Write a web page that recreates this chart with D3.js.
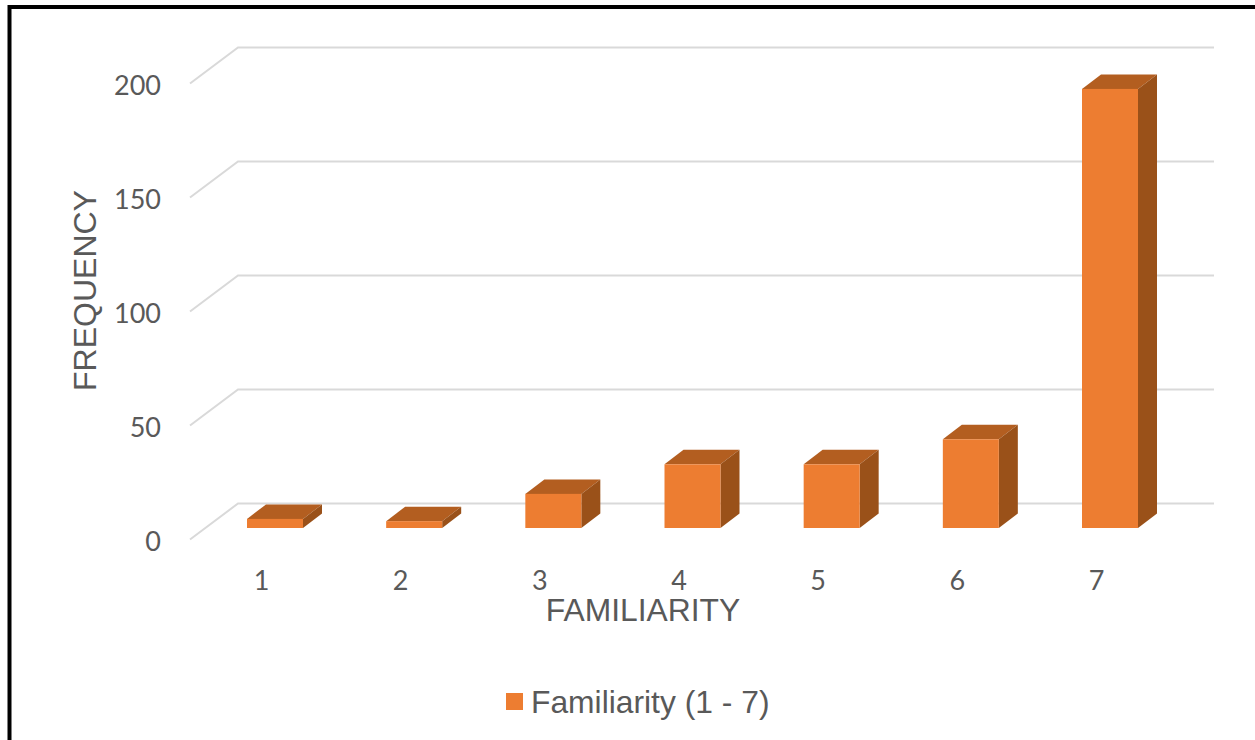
<!DOCTYPE html>
<html>
<head>
<meta charset="utf-8">
<script src="https://cdn.jsdelivr.net/npm/d3@7"></script>
<style>
  html, body { margin: 0; padding: 0; background: #fff; overflow: hidden; }
  svg { display: block; }
</style>
</head>
<body>
<svg id="chart" width="1255" height="740"></svg>
<script>
const categories = ["1", "2", "3", "4", "5", "6", "7"];
const frequency = [4, 3, 15, 28, 28, 39, 193];
const yTicks = [0, 50, 100, 150, 200];
const xTitle = "FAMILIARITY";
const yTitle = "FREQUENCY";
const seriesName = "Familiarity (1 - 7)";

const colors = { front: "#ED7D31", top: "#B35E20", side: "#9A5119", grid: "#D9D9D9", text: "#595959" };
const tickFont = "Lato, 'Open Sans', sans-serif";
const titleFont = "'Liberation Sans', Arial, sans-serif";

const svg = d3.select("#chart");

// Frame around the chart area
svg.append("path")
  .attr("d", "M9.5,740V7H1255")
  .attr("fill", "none").attr("stroke", "#000").attr("stroke-width", 4);

// Projection of the 3D box: wall sits behind the floor's front edge
const wall = { dx: 48, dy: 36 };
const depth = { dx: 19, dy: 14.5 };
const barWidth = 56;

const yWall = d3.scaleLinear().domain([0, 200]).range([503.5, 47.5]);
const yBar = d3.scaleLinear().domain([0, 200]).range([528, 73]);
const yEdge = d3.scaleLinear().domain([0, 200]).range([503.5 + wall.dy, 47.5 + wall.dy]);
const xBar = d3.scalePoint().domain(categories).range([275, 1110]);
const xLabel = d3.scalePoint().domain(categories).range([261, 1096]);

// Gridlines: slanted side wall plus back wall
const wallLeft = 238, wallRight = 1214;
svg.append("g").selectAll("path").data(yTicks).join("path")
  .attr("d", d => `M${wallLeft - wall.dx},${yWall(d) + wall.dy}L${wallLeft},${yWall(d)}H${wallRight}`)
  .attr("fill", "none").attr("stroke", colors.grid).attr("stroke-width", 2);

// Bars: top face, side face, front face
const bars = svg.append("g").selectAll("g")
  .data(categories.map((c, i) => ({ c, v: frequency[i] })))
  .join("g");

bars.append("path").attr("fill", colors.top).attr("d", d => {
  const l = xBar(d.c) - barWidth / 2, r = l + barWidth, t = yBar(d.v);
  return `M${l},${t}L${l + depth.dx},${t - depth.dy}H${r + depth.dx}L${r},${t}Z`;
});
bars.append("path").attr("fill", colors.side).attr("d", d => {
  const r = xBar(d.c) + barWidth / 2, t = yBar(d.v), b = yBar(0);
  return `M${r},${t}L${r + depth.dx},${t - depth.dy}V${b - depth.dy}L${r},${b}Z`;
});
bars.append("rect").attr("fill", colors.front)
  .attr("x", d => xBar(d.c) - barWidth / 2)
  .attr("y", d => yBar(d.v))
  .attr("width", barWidth)
  .attr("height", d => yBar(0) - yBar(d.v));

// Value axis labels
const yAxis = svg.append("g").attr("transform", "translate(161,2)")
  .call(d3.axisLeft(yEdge).tickValues(yTicks).tickSize(0).tickPadding(0).tickFormat(d3.format("d")));
yAxis.select(".domain").remove();
yAxis.selectAll("text").attr("fill", colors.text)
  .style("font-family", tickFont).style("font-size", "27px");

// Category axis labels
const xAxis = svg.append("g").attr("transform", "translate(0,571)")
  .call(d3.axisBottom(xLabel).tickSize(0).tickPadding(0));
xAxis.select(".domain").remove();
xAxis.selectAll("text").attr("fill", colors.text)
  .style("font-family", tickFont).style("font-size", "27px");

// Axis titles
svg.append("text").attr("x", 643).attr("y", 621).attr("text-anchor", "middle")
  .attr("fill", colors.text).style("font-family", titleFont).style("font-size", "31.8px")
  .text(xTitle);
svg.append("text").attr("transform", "translate(96,290.5) rotate(-90)").attr("text-anchor", "middle")
  .attr("fill", colors.text).style("font-family", titleFont).style("font-size", "32px")
  .text(yTitle);

// Legend
svg.append("rect").attr("x", 506).attr("y", 693).attr("width", 17).attr("height", 17).attr("fill", colors.front);
svg.append("text").attr("x", 531).attr("y", 713)
  .attr("fill", colors.text).style("font-family", titleFont).style("font-size", "31.8px")
  .text(seriesName);
</script>
</body>
</html>
